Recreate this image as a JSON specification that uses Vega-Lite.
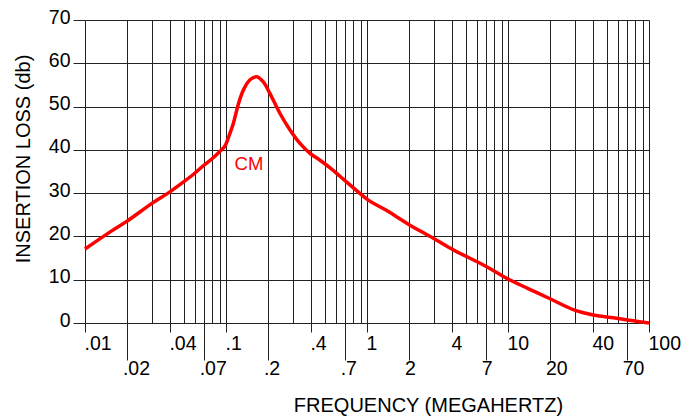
{
  "$schema": "https://vega.github.io/schema/vega-lite/v6.json",
  "width": 564,
  "height": 303,
  "autosize": {"type": "none"},
  "padding": {"left": 85, "top": 20, "right": 45, "bottom": 94},
  "background": "white",
  "config": {
    "view": {"stroke": null},
    "font": "Liberation Sans",
    "axis": {"labelFont": "Liberation Sans", "titleFont": "Liberation Sans", "labelColor": "black", "titleColor": "black"}
  },
  "datasets": {
    "curve": [
      {"f": 0.01, "v": 17.1},
      {"f": 0.015, "v": 21.0},
      {"f": 0.02, "v": 23.6},
      {"f": 0.03, "v": 27.7},
      {"f": 0.04, "v": 30.3},
      {"f": 0.05, "v": 32.6},
      {"f": 0.06, "v": 34.6},
      {"f": 0.07, "v": 36.5},
      {"f": 0.08, "v": 38.0},
      {"f": 0.09, "v": 39.6},
      {"f": 0.0983, "v": 40.9},
      {"f": 0.106, "v": 43.6},
      {"f": 0.1127, "v": 46.1},
      {"f": 0.1222, "v": 50.5},
      {"f": 0.1327, "v": 53.8},
      {"f": 0.1479, "v": 56.2},
      {"f": 0.1651, "v": 56.9},
      {"f": 0.184, "v": 55.7},
      {"f": 0.2051, "v": 53.0},
      {"f": 0.2415, "v": 48.4},
      {"f": 0.2844, "v": 44.6},
      {"f": 0.3348, "v": 41.5},
      {"f": 0.3943, "v": 39.2},
      {"f": 0.4642, "v": 37.6},
      {"f": 0.55, "v": 35.8},
      {"f": 0.6435, "v": 33.9},
      {"f": 0.757, "v": 31.9},
      {"f": 1.021, "v": 28.4},
      {"f": 1.342, "v": 26.2},
      {"f": 2.018, "v": 22.6},
      {"f": 2.953, "v": 19.6},
      {"f": 4.093, "v": 16.9},
      {"f": 7.06, "v": 13.0},
      {"f": 9.79, "v": 10.3},
      {"f": 14.0, "v": 7.9},
      {"f": 19.86, "v": 5.6},
      {"f": 29.04, "v": 3.1},
      {"f": 40.3, "v": 1.85},
      {"f": 59.0, "v": 1.1},
      {"f": 77.4, "v": 0.5},
      {"f": 100, "v": 0.0}
    ],
    "labels": [
      {"f": 0.1456, "v": 36.8, "label": "CM"}
    ]
  },
  "layer": [
    {
      "data": {"name": "labels"},
      "mark": {"type": "text", "color": "#ff0000", "fontSize": 18.5, "font": "Liberation Sans", "align": "center", "baseline": "middle"},
      "encoding": {
        "x": {
          "field": "f", "type": "quantitative",
          "scale": {"type": "log", "domain": [0.01, 100], "nice": false},
          "axis": {
            "orient": "bottom",
            "values": [0.01, 0.02, 0.03, 0.04, 0.05, 0.06, 0.07, 0.08, 0.09, 0.1, 0.2, 0.3, 0.4, 0.5, 0.6, 0.7, 0.8, 0.9, 1, 2, 3, 4, 5, 6, 7, 8, 9, 10, 20, 30, 40, 50, 60, 70, 80, 90, 100],
            "grid": true, "gridColor": "#222222", "gridOpacity": 1, "gridWidth": 1,
            "ticks": false, "labels": false, "domain": false, "title": null
          }
        },
        "y": {
          "field": "v", "type": "quantitative",
          "scale": {"domain": [0, 70], "nice": false, "zero": true},
          "axis": {
            "values": [0, 10, 20, 30, 40, 50, 60, 70],
            "grid": true, "gridColor": "#222222", "gridOpacity": 1, "gridWidth": 1,
            "domain": false, "tickSize": 12, "tickColor": "#222222", "tickWidth": 1,
            "labelFontSize": 19.5, "labelPadding": 3, "labelBaseline": "middle", "labelOffset": -3,
            "title": "INSERTION LOSS (db)", "titleFontSize": 20, "titleFontWeight": "normal",
            "titleX": -62, "titleY": 138.5, "titleAngle": -90, "titleAlign": "center", "titleBaseline": "middle"
          }
        },
        "text": {"field": "label"}
      }
    },
    {
      "data": {"name": "curve"},
      "mark": {"type": "line", "color": "#ff0000", "strokeWidth": 3.5, "interpolate": "catmull-rom"},
      "encoding": {
        "x": {
          "field": "f", "type": "quantitative",
          "scale": {"type": "log", "domain": [0.01, 100], "nice": false},
          "axis": {
            "orient": "bottom",
            "values": [0.01, 0.02, 0.04, 0.07, 0.1, 0.2, 0.4, 0.7, 1, 2, 4, 7, 10, 20, 40, 70, 100],
            "grid": false, "domain": false,
            "tickColor": "#222222", "tickWidth": 1,
            "tickSize": {"condition": {"test": "indexof([0.02, 0.07, 0.2, 0.7, 2, 7, 20, 70], datum.value) >= 0", "value": 37}, "value": 9},
            "labelOffset": {"condition": {"test": "indexof([0.02, 0.07, 0.2, 0.7, 2, 7, 20, 70], datum.value) >= 0", "value": -5}, "value": -1},
            "labelPadding": {"condition": {"test": "indexof([0.02, 0.07, 0.2, 0.7, 2, 7, 20, 70], datum.value) >= 0", "value": -1}, "value": 2},
            "labelExpr": "replace(datum.label, /^0\\./, '.')",
            "format": "~g",
            "labelAlign": "left", "labelBaseline": "top",
            "labelFlush": false, "labelOverlap": false, "labelBound": false,
            "labelFontSize": 19.5,
            "title": "FREQUENCY (MEGAHERTZ)", "titleFontSize": 20, "titleFontWeight": "normal",
            "titleX": 343, "titleY": 82, "titleAlign": "center", "titleBaseline": "middle"
          }
        },
        "y": {
          "field": "v", "type": "quantitative",
          "scale": {"domain": [0, 70], "nice": false, "zero": true}
        }
      }
    }
  ],
  "resolve": {"axis": {"x": "independent"}}
}
